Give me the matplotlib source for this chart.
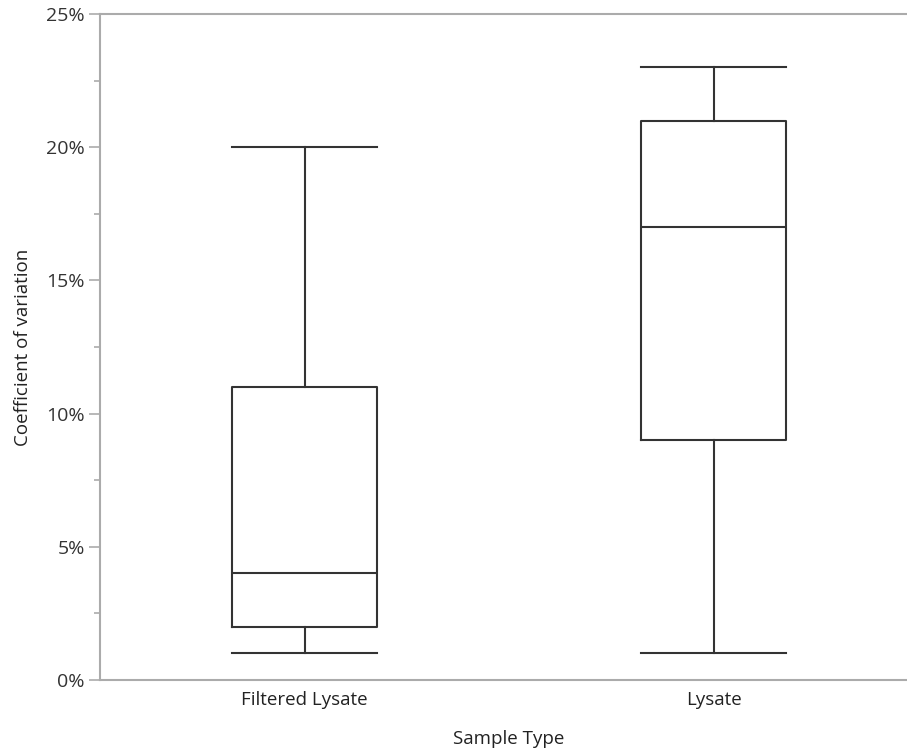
import matplotlib.pyplot as plt
from matplotlib.ticker import MultipleLocator, PercentFormatter

# box plot summary values (percent)
categories = ['Filtered Lysate', 'Lysate']
whislo = [1, 1]
q1 = [2, 9]
med = [4, 17]
q3 = [11, 21]
whishi = [20, 23]

plt.rcParams['font.family'] = ['Open Sans', 'DejaVu Sans']

W, H = 907, 751
fig = plt.figure(figsize=(W / 100, H / 100), dpi=100)
ax = fig.add_axes([100 / W, 71 / H, 818 / W, 666 / H])

stats = []
for i, name in enumerate(categories):
    stats.append({'label': name, 'whislo': whislo[i], 'q1': q1[i], 'med': med[i],
                  'q3': q3[i], 'whishi': whishi[i], 'fliers': []})

line = dict(color='#333333', linewidth=1.5)
ax.bxp(stats, positions=[0.5, 1.5], widths=0.355, showfliers=False,
       boxprops=line, medianprops=line, whiskerprops=line,
       capprops=line, capwidths=0.355)

ax.set_xlim(0, 2)
ax.set_ylim(0, 25)
ax.yaxis.set_major_locator(MultipleLocator(5))
ax.yaxis.set_minor_locator(MultipleLocator(2.5))
ax.yaxis.set_major_formatter(PercentFormatter(xmax=100, decimals=0))

spine_c = '#ababab'
for s in ['left', 'top', 'bottom']:
    ax.spines[s].set_color(spine_c)
    ax.spines[s].set_linewidth(1.5)
ax.spines['right'].set_visible(False)

ax.tick_params(axis='y', which='major', length=8, width=1.2, color=spine_c,
               labelsize=14, labelcolor='#333333', pad=3)
ax.tick_params(axis='y', which='minor', length=4, width=1.2, color=spine_c)
ax.tick_params(axis='x', length=0, labelsize=13.5, labelcolor='#222222', pad=8)

ax.set_xlabel('Sample Type', fontsize=13.5, color='#222222', labelpad=15)
ax.set_ylabel('Coefficient of variation', fontsize=13.5, color='#222222', labelpad=10)

fig.savefig('out.png', dpi=100)
